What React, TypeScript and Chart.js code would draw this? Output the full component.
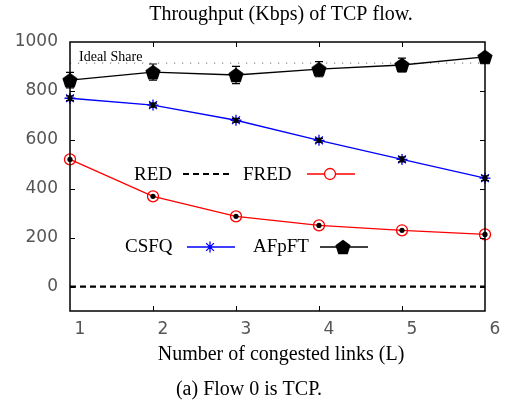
import React, { useEffect, useRef } from 'react';
import { Chart, registerables } from 'chart.js';

Chart.register(...registerables);

const links = [1, 2, 3, 4, 5, 6];
const redValues = [0, 0, 0, 0, 0, 0];
const fredValues = [520, 369, 287, 250, 230, 213];
const csfqValues = [770, 742, 680, 598, 520, 443];
const csfqErrors = [10, 8, 8, 8, 10, 10];
const afpftValues = [844, 877, 865, 889, 906, 939];
const afpftErrors = [32, 33, 35, 31, 28, 10];
const idealShare = 914;
const yTickValues = [0, 200, 400, 600, 800, 1000];
const xTickValues = [1, 2, 3, 4, 5, 6];
const titleText = 'Throughput (Kbps) of TCP flow.';
const xTitleText = 'Number of congested links (L)';
const captionText = '(a) Flow 0 is TCP.';
const idealLabel = 'Ideal Share';

const SERIF = '"Liberation Serif", "Times New Roman", serif';
const SANS = '"DejaVu Sans", sans-serif';

function makePentagon(r: number): HTMLCanvasElement {
  const size = Math.ceil(r * 2 + 2);
  const c = document.createElement('canvas');
  c.width = size;
  c.height = size;
  const g = c.getContext('2d')!;
  const cx = size / 2;
  const cy = size / 2 + 0.8;
  g.beginPath();
  for (let k = 0; k < 5; k++) {
    const ang = -Math.PI / 2 + (k * 2 * Math.PI) / 5;
    const px = cx + r * Math.cos(ang);
    const py = cy + r * Math.sin(ang);
    if (k === 0) g.moveTo(px, py);
    else g.lineTo(px, py);
  }
  g.closePath();
  g.fillStyle = '#000';
  g.fill();
  return c;
}

const pts = (vals: number[]) => vals.map((v, i) => ({ x: links[i], y: v }));

export default function App() {
  const ref = useRef<HTMLCanvasElement | null>(null);

  useEffect(() => {
    const canvas = ref.current;
    if (!canvas) return;
    const pentagon = makePentagon(8);

    const decor = {
      id: 'decor',
      afterDatasetsDraw(chart: any) {
        const { ctx, chartArea: a, scales } = chart;
        const xs = scales.x;
        const ys = scales.y;
        ctx.save();

        // error bars
        ctx.strokeStyle = '#000';
        ctx.lineWidth = 1.2;
        const bars = (vals: number[], errs: number[]) => {
          vals.forEach((v, i) => {
            const px = xs.getPixelForValue(links[i]);
            const y1 = ys.getPixelForValue(v + errs[i]);
            const y2 = ys.getPixelForValue(v - errs[i]);
            ctx.beginPath();
            ctx.moveTo(px, y1);
            ctx.lineTo(px, y2);
            ctx.moveTo(px - 4, y1);
            ctx.lineTo(px + 4, y1);
            ctx.moveTo(px - 4, y2);
            ctx.lineTo(px + 4, y2);
            ctx.stroke();
          });
        };
        bars(afpftValues, afpftErrors);
        bars(csfqValues, csfqErrors);

        // centre dots
        ctx.fillStyle = '#000';
        const dots = (vals: number[]) => {
          vals.forEach((v, i) => {
            ctx.beginPath();
            ctx.arc(xs.getPixelForValue(links[i]), ys.getPixelForValue(v), 2.6, 0, Math.PI * 2);
            ctx.fill();
          });
        };
        dots(fredValues);
        dots(csfqValues);

        // frame
        ctx.strokeStyle = '#000';
        ctx.lineWidth = 1.5;
        ctx.strokeRect(a.left, a.top, a.right - a.left, a.bottom - a.top);

        // inward ticks
        ctx.lineWidth = 1;
        ctx.strokeStyle = '#000';
        ctx.beginPath();
        xTickValues.slice(1, -1).forEach((v) => {
          const px = Math.round(xs.getPixelForValue(v)) + 0.5;
          ctx.moveTo(px, a.bottom);
          ctx.lineTo(px, a.bottom - 5);
          ctx.moveTo(px, a.top);
          ctx.lineTo(px, a.top + 5);
        });
        yTickValues.slice(0, -1).forEach((v) => {
          const py = Math.round(ys.getPixelForValue(v)) + 0.5;
          ctx.moveTo(a.left, py);
          ctx.lineTo(a.left + 5, py);
          ctx.moveTo(a.right, py);
          ctx.lineTo(a.right - 5, py);
        });
        ctx.stroke();

        // texts
        ctx.fillStyle = '#000';
        ctx.textBaseline = 'middle';
        ctx.textAlign = 'center';
        ctx.font = `20px ${SERIF}`;
        ctx.fillText(titleText, 281, 15);
        ctx.fillText(xTitleText, 281, 355);
        ctx.fillText(captionText, 249, 390);

        ctx.textAlign = 'left';
        ctx.font = `14px ${SERIF}`;
        ctx.fillText(idealLabel, 79, 57);

        // legend
        ctx.font = `19px ${SERIF}`;
        ctx.fillText('RED', 134, 175);
        ctx.fillText('FRED', 243, 175);
        ctx.fillText('CSFQ', 125, 247);
        ctx.fillText('AFpFT', 253, 247);

        // RED sample
        ctx.strokeStyle = '#000';
        ctx.lineWidth = 2.2;
        ctx.setLineDash([6, 4]);
        ctx.beginPath();
        ctx.moveTo(183, 174);
        ctx.lineTo(231, 174);
        ctx.stroke();
        ctx.setLineDash([]);

        // FRED sample
        ctx.strokeStyle = '#ff0000';
        ctx.lineWidth = 1.3;
        ctx.beginPath();
        ctx.moveTo(307, 174);
        ctx.lineTo(355, 174);
        ctx.stroke();
        ctx.fillStyle = '#fff';
        ctx.beginPath();
        ctx.arc(330, 174, 5.5, 0, Math.PI * 2);
        ctx.fill();
        ctx.stroke();

        // CSFQ sample
        ctx.strokeStyle = '#0000ff';
        ctx.beginPath();
        ctx.moveTo(187, 247);
        ctx.lineTo(235, 247);
        const r = 5.5;
        ctx.moveTo(210 - r, 247);
        ctx.lineTo(210 + r, 247);
        ctx.moveTo(210, 247 - r);
        ctx.lineTo(210, 247 + r);
        const d = r * Math.SQRT1_2;
        ctx.moveTo(210 - d, 247 - d);
        ctx.lineTo(210 + d, 247 + d);
        ctx.moveTo(210 - d, 247 + d);
        ctx.lineTo(210 + d, 247 - d);
        ctx.stroke();

        // AFpFT sample
        ctx.strokeStyle = '#000';
        ctx.beginPath();
        ctx.moveTo(320, 247);
        ctx.lineTo(368, 247);
        ctx.stroke();
        ctx.drawImage(pentagon, 343 - pentagon.width / 2, 247 - pentagon.height / 2);

        ctx.restore();
      },
    };

    const chart = new Chart(canvas, {
      type: 'line',
      data: {
        datasets: [
          {
            label: 'AFpFT',
            data: pts(afpftValues),
            borderColor: '#000',
            backgroundColor: '#000',
            borderWidth: 1.3,
            pointStyle: pentagon as any,
            pointRadius: 8,
            clip: false as any,
          },
          {
            label: 'CSFQ',
            data: pts(csfqValues),
            borderColor: '#0000ff',
            backgroundColor: '#0000ff',
            borderWidth: 1.3,
            pointStyle: 'star',
            pointRadius: 5.5,
            pointBorderWidth: 1.3,
            clip: false as any,
          },
          {
            label: 'FRED',
            data: pts(fredValues),
            borderColor: '#ff0000',
            backgroundColor: 'rgba(0,0,0,0)',
            borderWidth: 1.3,
            pointStyle: 'circle',
            pointRadius: 5.5,
            pointBorderWidth: 1.3,
            clip: false as any,
          },
          {
            label: 'RED',
            data: pts(redValues),
            borderColor: '#000',
            borderWidth: 2.2,
            borderDash: [6, 4],
            pointRadius: 0,
            clip: false as any,
          },
          {
            label: 'Ideal Share',
            data: links.map((x) => ({ x, y: idealShare })),
            borderColor: '#888',
            borderWidth: 1.2,
            borderDash: [1.2, 6.8],
            pointRadius: 0,
          },
        ],
      },
      options: {
        animation: false,
        responsive: false,
        devicePixelRatio: 1,
        events: [],
        layout: { padding: { left: 0, top: 42, right: 20, bottom: 0 } },
        elements: { line: { tension: 0 } },
        plugins: {
          legend: { display: false },
          title: { display: false },
          tooltip: { enabled: false },
        },
        scales: {
          x: {
            type: 'linear',
            min: 1,
            max: 6,
            grid: { display: false, drawTicks: false },
            border: { display: false },
            afterBuildTicks: (s: any) => {
              s.ticks = xTickValues.map((v) => ({ value: v }));
            },
            afterFit: (s: any) => {
              s.height = 91;
            },
            ticks: {
              autoSkip: false,
              maxRotation: 0,
              padding: 8,
              labelOffset: 10,
              color: '#555',
              font: { family: SANS, size: 17 },
              callback: (v: any) => String(v),
            },
          },
          y: {
            type: 'linear',
            min: -100,
            max: 1000,
            grid: { display: false, drawTicks: false },
            border: { display: false },
            afterBuildTicks: (s: any) => {
              s.ticks = yTickValues.map((v) => ({ value: v }));
            },
            afterFit: (s: any) => {
              s.width = 70;
            },
            ticks: {
              padding: 12,
              color: '#555',
              font: { family: SANS, size: 17 },
              callback: (v: any) => String(v),
            },
          },
        },
      },
      plugins: [decor],
    });

    return () => chart.destroy();
  }, []);

  return (
    <div style={{ position: 'absolute', left: 0, top: 0, width: 505, height: 402, background: '#fff' }}>
      <canvas ref={ref} width={505} height={402} style={{ width: 505, height: 402, display: 'block' }} />
    </div>
  );
}
